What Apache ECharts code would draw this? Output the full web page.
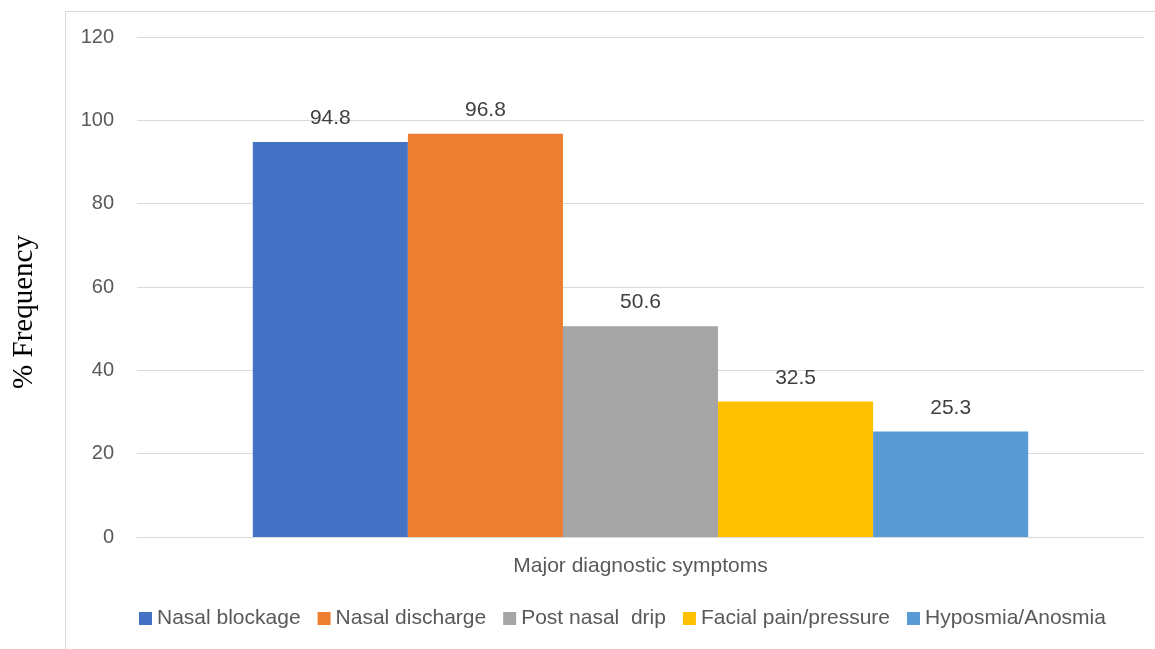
<!DOCTYPE html>
<html>
<head>
<meta charset="utf-8">
<script src="https://cdn.jsdelivr.net/npm/echarts@6/dist/echarts.min.js"></script>
<style>html,body{margin:0;padding:0;background:#fff}#c{width:1155px;height:649px}</style>
</head>
<body>
<div id="c"></div>
<script>
var categories = ["Major diagnostic symptoms"];
var seriesNames = ["Nasal blockage", "Nasal discharge", "Post nasal  drip", "Facial pain/pressure", "Hyposmia/Anosmia"];
var seriesValues = [94.8, 96.8, 50.6, 32.5, 25.3];
var seriesColors = ["#4472C4", "#ED7D31", "#A5A5A5", "#FFC000", "#5B9BD5"];
var yTicks = {min: 0, max: 120, interval: 20};

var font = "Liberation Sans";
var chart = echarts.init(document.getElementById('c'));
chart.setOption({
  animation: false,
  graphic: [{
    type: 'rect', left: 63, top: 9, silent: true,
    shape: {x: 0, y: 0, width: 1200, height: 700},
    style: {fill: 'none', stroke: '#d9d9d9', lineWidth: 1}
  }],
  grid: {left: 137, right: 11, top: 37, bottom: 112},
  legend: {
    left: 134, top: 603, itemWidth: 13, itemHeight: 13, itemGap: 17, icon: 'rect',
    textStyle: {fontFamily: font, fontSize: 21, color: '#595959'},
    data: seriesNames
  },
  xAxis: {
    type: 'category', data: categories,
    axisLine: {lineStyle: {color: '#d9d9d9', width: 1}},
    axisTick: {show: false},
    axisLabel: {margin: 19, fontFamily: font, fontSize: 21, color: '#595959'}
  },
  yAxis: {
    type: 'value', min: yTicks.min, max: yTicks.max, interval: yTicks.interval,
    name: '% Frequency', nameLocation: 'middle', nameGap: 98,
    nameTextStyle: {fontFamily: 'Liberation Serif', fontSize: 29, color: '#000', padding: [0, 50, 0, 0]},
    axisLine: {show: false}, axisTick: {show: false},
    axisLabel: {margin: 23, fontFamily: font, fontSize: 20, color: '#595959'},
    splitLine: {lineStyle: {color: '#d9d9d9', width: 1}}
  },
  series: seriesNames.map(function (n, i) {
    return {
      name: n, type: 'bar', data: [seriesValues[i]],
      itemStyle: {color: seriesColors[i]},
      barGap: '0%', barCategoryGap: '23%',
      label: {show: true, position: 'top', distance: 13, fontFamily: font, fontSize: 21, color: '#404040'}
    };
  })
});
</script>
</body>
</html>
